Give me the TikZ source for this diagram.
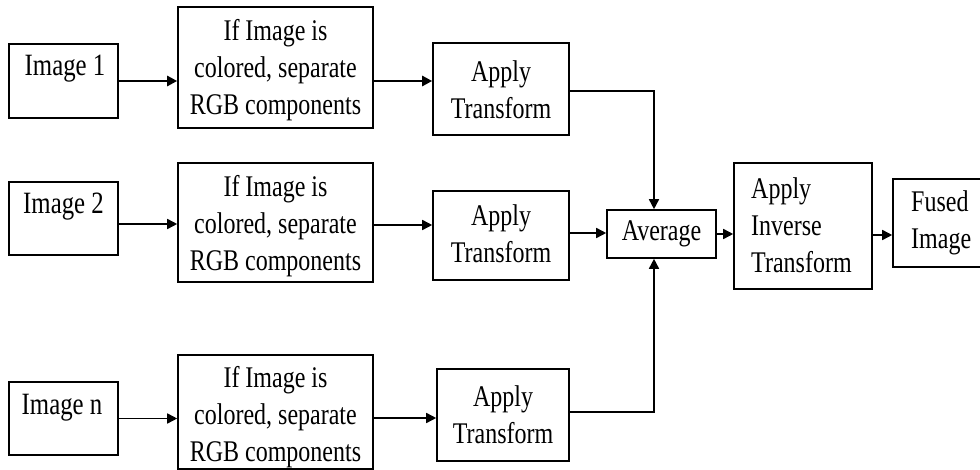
\documentclass[tikz,border=0pt]{standalone}
\usepackage{fontspec}
\setmainfont{Liberation Serif}[FakeStretch=0.80]
\usetikzlibrary{arrows.meta}
\begin{document}
\begin{tikzpicture}[x=1pt,y=-1pt,
  box/.style={draw=black,line width=1.6pt,inner sep=0pt,fill=none},
  txt/.style={align=center,inner sep=0pt,font=\fontsize{30}{37}\selectfont},
  ltxt/.style={align=left,inner sep=0pt,anchor=west,font=\fontsize{30}{37}\selectfont},
  conn/.style={line width=1.6pt,-{Triangle[length=10pt,width=10pt]}},
  tconn/.style={line width=2.8pt,-{Triangle[length=10pt,width=10pt]}}]
\clip (0,0) rectangle (980,470);
\fill[white] (0,0) rectangle (980,470);
% Row 1
\node[box,minimum width=109,minimum height=74] (img1) at (63.5,81) {};
\node[txt,font=\fontsize{31}{37}\selectfont] (img1t) at (65,69) {Image 1};
\node[box,minimum width=195,minimum height=121] (sep1) at (275.5,67.5) {};
\node[txt] (sep1t) at (275.5,70) {If Image is\\colored, separate\\RGB components};
\node[box,minimum width=136,minimum height=92] (at1) at (501,89) {};
\node[txt] (at1t) at (501,90) {Apply\\Transform};
% Row 2
\node[box,minimum width=109,minimum height=73] (img2) at (63.5,218.5) {};
\node[txt,font=\fontsize{31}{37}\selectfont] (img2t) at (63.5,207) {Image 2};
\node[box,minimum width=195,minimum height=119] (sep2) at (275.5,222.5) {};
\node[txt] (sep2t) at (275.5,226) {If Image is\\colored, separate\\RGB components};
\node[box,minimum width=136,minimum height=89] (at2) at (501,235.5) {};
\node[txt] (at2t) at (501,234) {Apply\\Transform};
% Row 3
\node[box,minimum width=109,minimum height=73] (imgn) at (63.5,418.5) {};
\node[txt,font=\fontsize{31}{37}\selectfont] (imgnt) at (62,408) {Image n};
\node[box,minimum width=195,minimum height=114] (sepn) at (275.5,412) {};
\node[txt] (sepnt) at (275.5,417) {If Image is\\colored, separate\\RGB components};
\node[box,minimum width=132,minimum height=92] (at3) at (503,415) {};
\node[txt] (at3t) at (503,415) {Apply\\Transform};
% Right part
\node[box,minimum width=109,minimum height=48] (avg) at (661.5,234) {};
\node[txt] (avgt) at (661.5,234) {Average};
\node[box,minimum width=138,minimum height=126] (inv) at (803,226) {};
\node[ltxt] (invt) at (751,225) {Apply\\Inverse\\Transform};
\node[box,minimum width=102,minimum height=88] (fused) at (944,223) {};
\node[ltxt,anchor=north west] (fusedt) at (911,190) {Fused\\Image};
% Connectors
\draw[tconn] (img1.east) -- (img1.east -| sep1.west);
\draw[tconn] ([yshift=-13.5pt]sep1.east) -- ([yshift=-13.5pt]sep1.east -| at1.west);
\draw[conn] ([yshift=-2pt]at1.east) -| ([xshift=-7.5pt]avg.north);
\draw[conn] ([yshift=-5.5pt]img2.east) -- ([yshift=-5.5pt]img2.east -| sep2.west);
\draw[conn] ([yshift=-2.5pt]sep2.east) -- ([yshift=-2.5pt]sep2.east -| at2.west);
\draw[conn] ([yshift=2.5pt]at2.east) -- ([yshift=2.5pt]at2.east -| avg.west);
\draw[conn] (imgn.east) -- (imgn.east -| sepn.west);
\draw[conn] ([yshift=-6pt]sepn.east) -- ([yshift=-6pt]sepn.east -| at3.west);
\draw[conn] ([yshift=3pt]at3.east) -| ([xshift=-7.5pt]avg.south);
\draw[conn] (avg.east) -- (avg.east -| inv.west);
\draw[conn] ([yshift=-9pt]inv.east) -- ([yshift=-9pt]inv.east -| fused.west);
\end{tikzpicture}
\end{document}
